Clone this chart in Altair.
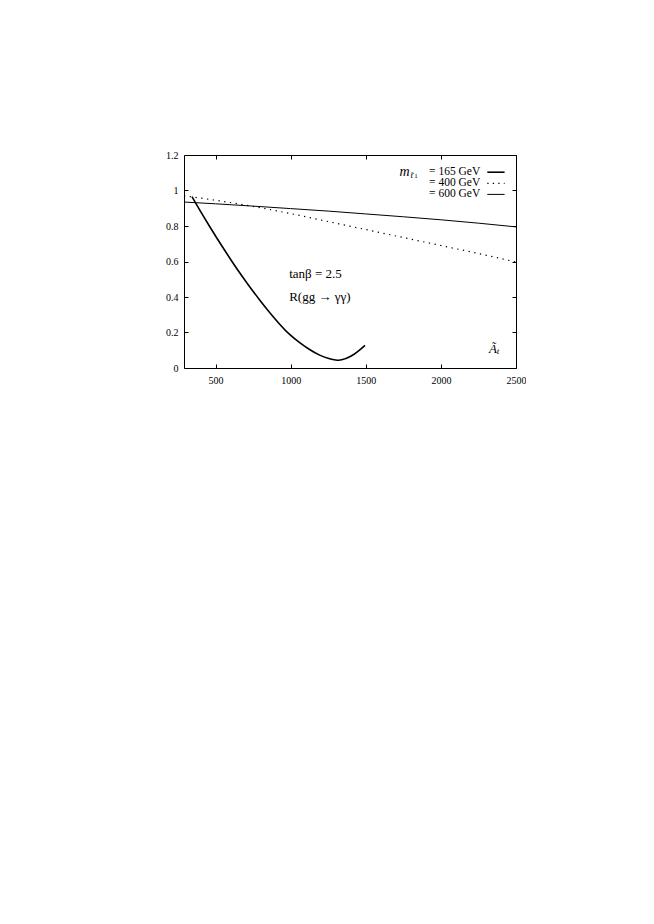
import altair as alt
import pandas as pd

# ---- data ----
x_165 = [343, 400, 466, 535, 605, 670, 727, 795, 860, 927, 993, 1060, 1126, 1193, 1260, 1300, 1340, 1400, 1450, 1495]
y_165 = [0.965, 0.882, 0.79, 0.697, 0.606, 0.525, 0.458, 0.382, 0.313, 0.247, 0.189, 0.143, 0.104, 0.0725, 0.052, 0.045, 0.046, 0.066, 0.095, 0.128]

x_400 = [290, 500, 750, 1000, 1250, 1500, 1750, 2000, 2250, 2500]
y_400 = [0.97, 0.945, 0.91, 0.87, 0.825, 0.78, 0.735, 0.69, 0.645, 0.597]

x_600 = [290, 500, 750, 1000, 1250, 1500, 1750, 2000, 2250, 2500]
y_600 = [0.935, 0.925, 0.912, 0.898, 0.884, 0.868, 0.852, 0.835, 0.816, 0.795]

x_ticks = [500, 1000, 1500, 2000, 2500]
y_ticks = [0, 0.2, 0.4, 0.6, 0.8, 1.0, 1.2]

legend_labels = ["= 165 GeV", "= 400 GeV", "= 600 GeV"]
legend_y = [1.103, 1.04, 0.978]
legend_text_x = [2262, 2262, 2262]
legend_line_x = [2309, 2309, 2309]
legend_line_x2 = [2424, 2424, 2424]

FONT = "Liberation Serif"
x_dom = [290, 2500]
y_dom = [0, 1.2]

xs = alt.Scale(domain=x_dom, nice=False, zero=False)
ys = alt.Scale(domain=y_dom, nice=False, zero=False)

xax = alt.Axis(values=x_ticks, format="d", title=None, labelPadding=7,
               labelOverlap=False, labelFlush=False,
               grid=True, gridDash=[4, 205, 4, 0])
yax = alt.Axis(values=y_ticks, format="~g", title=None, labelPadding=6,
               labelOverlap=False, labelFlush=False,
               grid=True, gridDash=[4, 324, 4, 0])


def X(f):
    return alt.X(f, type="quantitative", scale=xs, axis=xax)


def Y(f):
    return alt.Y(f, type="quantitative", scale=ys, axis=yax)


df165 = pd.DataFrame({"x": x_165, "y": y_165})
df400 = pd.DataFrame({"x": x_400, "y": y_400})
df600 = pd.DataFrame({"x": x_600, "y": y_600})

l165 = alt.Chart(df165).mark_line(color="black", strokeWidth=1.6, interpolate="natural").encode(
    x=X("x"), y=Y("y"))
l400 = alt.Chart(df400).mark_line(color="black", strokeWidth=1.2, strokeDash=[1.3, 4.5],
                                  interpolate="monotone").encode(x=X("x"), y=Y("y"))
l600 = alt.Chart(df600).mark_line(color="black", strokeWidth=1, interpolate="monotone").encode(
    x=X("x"), y=Y("y"))

leg = pd.DataFrame({"label": legend_labels, "y": legend_y, "tx": legend_text_x,
                    "lx": legend_line_x, "lx2": legend_line_x2,
                    "w": [1.6, 1.2, 1.0], "dash": ["solid", "dot", "solid"]})

leg_text = alt.Chart(leg).mark_text(align="right", baseline="middle", font=FONT, fontSize=11.5, color="black").encode(
    x=X("tx"), y=Y("y"), text="label:N")
leg_solid = alt.Chart(leg).transform_filter("datum.dash == 'solid'").mark_rule(color="black").encode(
    x=X("lx"), x2="lx2:Q", y=Y("y"),
    strokeWidth=alt.StrokeWidth("w:Q", scale=None))
leg_dot = alt.Chart(leg).transform_filter("datum.dash == 'dot'").mark_rule(
    color="black", strokeWidth=1.2, strokeDash=[1.3, 4.2]).encode(
    x=X("lx"), x2="lx2:Q", y=Y("y"))

ann = pd.DataFrame({"x": [1725, 1797, 1822, 990, 990, 2320, 2372],
                    "y": [1.103, 1.085, 1.082, 0.528, 0.40, 0.108, 0.093],
                    "t": ["m", "t̃", "1", "tanβ = 2.5", "R(gg → γγ)", "Ã", "t"],
                    "size": [14, 9, 7, 13, 13, 13, 9],
                    "style": ["italic", "italic", "normal", "normal", "normal", "italic", "italic"]})

ann_it = alt.Chart(ann).transform_filter("datum.style == 'italic'").mark_text(
    align="left", baseline="middle", font=FONT, fontStyle="italic", color="black").encode(
    x=X("x"), y=Y("y"), text="t:N",
    size=alt.Size("size:Q", scale=None, legend=None))
ann_rm = alt.Chart(ann).transform_filter("datum.style == 'normal'").mark_text(
    align="left", baseline="middle", font=FONT, color="black").encode(
    x=X("x"), y=Y("y"), text="t:N",
    size=alt.Size("size:Q", scale=None, legend=None))

chart = alt.layer(l165, l600, l400, leg_text, leg_solid, leg_dot, ann_it, ann_rm).properties(
    width=332, height=213,
    padding={"left": 176, "top": 147, "right": 10, "bottom": 40},
    autosize=alt.AutoSizeParams(type="none"),
    background="white",
).configure_view(stroke="black", strokeWidth=1).configure_axis(
    domain=False, ticks=False, gridColor="black", gridOpacity=1, gridWidth=1,
    labelFont=FONT, labelFontSize=10, labelColor="black", labelOverlap=False,
)

chart.save("out.html", embed_options={"renderer": "svg", "actions": False})
